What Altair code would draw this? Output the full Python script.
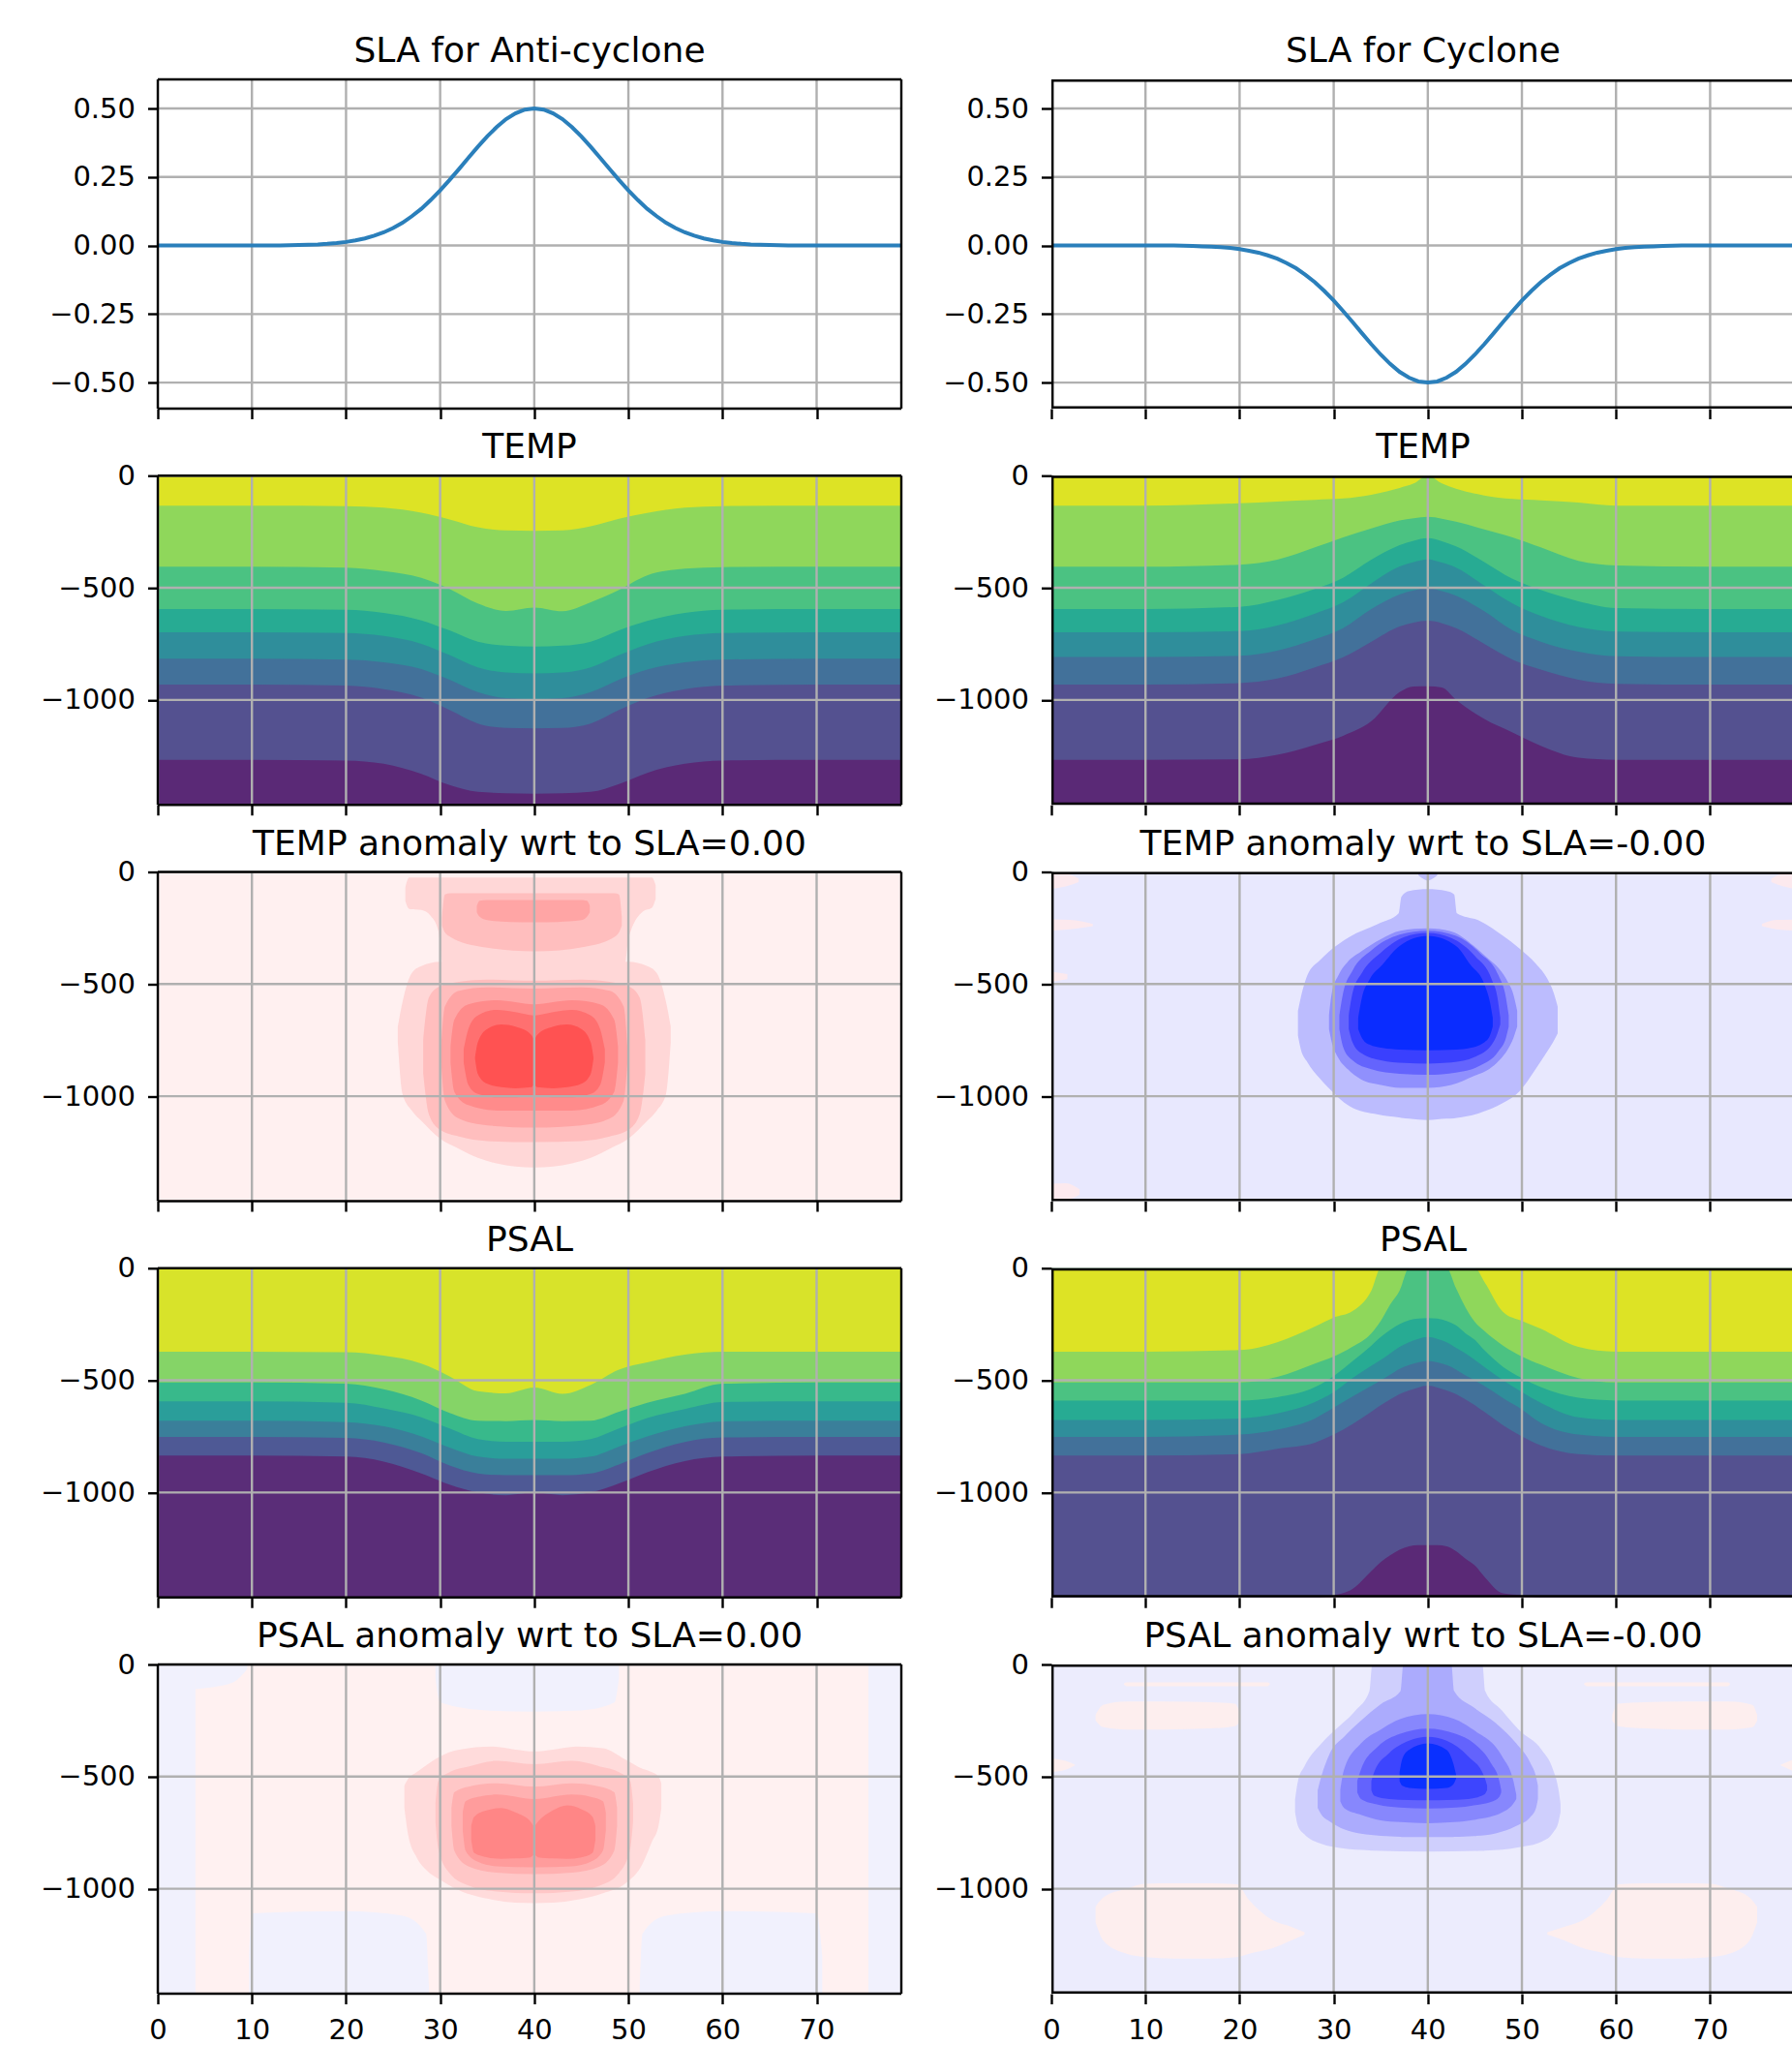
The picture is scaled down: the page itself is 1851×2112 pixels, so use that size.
import altair as alt
import pandas as pd

FONT = "DejaVu Sans"
TICK_SIZE = 29
TITLE_SIZE = 36

# ---------------- axes ----------------
X_TICKS = [0, 10, 20, 30, 40, 50, 60, 70]
X_MAX_LEFT = 79
X_MAX_RIGHT = 78.7          # right column is cut by the page edge
SLA_TICKS = [-0.5, -0.25, 0.0, 0.25, 0.5]
SLA_DOMAIN = [-0.595, 0.606]
DEPTH_TICKS = [0, -500, -1000]
DEPTH_DOMAIN = [-1468, 0]

TITLES = [
    "SLA for Anti-cyclone", "SLA for Cyclone",
    "TEMP", "TEMP",
    "TEMP anomaly wrt to SLA=0.00", "TEMP anomaly wrt to SLA=-0.00",
    "PSAL", "PSAL",
    "PSAL anomaly wrt to SLA=0.00", "PSAL anomaly wrt to SLA=-0.00",
]

# ---------------- SLA profiles ----------------
SLA_X = list(range(80))
SLA_ANTI = [0, 0, 0, 0, 0, 0, 0, 0, 0, 0, 0, 0, 0, 0,
            0.001, 0.002, 0.003, 0.004, 0.006, 0.009, 0.013, 0.019, 0.026, 0.036,
            0.048, 0.064, 0.083, 0.107, 0.134, 0.166, 0.201, 0.239, 0.279, 0.320,
            0.360, 0.398, 0.432, 0.461, 0.482, 0.496, 0.500, 0.496, 0.482, 0.461,
            0.432, 0.398, 0.360, 0.320, 0.279, 0.239, 0.201, 0.166, 0.134, 0.107,
            0.083, 0.064, 0.048, 0.036, 0.026, 0.019, 0.013, 0.009, 0.006, 0.004,
            0.003, 0.002, 0.001,
            0, 0, 0, 0, 0, 0, 0, 0, 0, 0, 0, 0, 0]
SLA_CYC = [0, 0, 0, 0, 0, 0, 0, 0, 0, 0, 0, 0, 0, 0,
           -0.001, -0.002, -0.003, -0.004, -0.006, -0.009, -0.013, -0.019, -0.026, -0.036,
           -0.048, -0.064, -0.083, -0.107, -0.134, -0.166, -0.201, -0.239, -0.279, -0.320,
           -0.360, -0.398, -0.432, -0.461, -0.482, -0.496, -0.500, -0.496, -0.482, -0.461,
           -0.432, -0.398, -0.360, -0.320, -0.279, -0.239, -0.201, -0.166, -0.134, -0.107,
           -0.083, -0.064, -0.048, -0.036, -0.026, -0.019, -0.013, -0.009, -0.006, -0.004,
           -0.003, -0.002, -0.001,
           0, 0, 0, 0, 0, 0, 0, 0, 0, 0, 0, 0, 0]

# ---------------- layered (viridis) fields: band lower boundaries, top -> bottom ----------------
VIRIDIS8 = ["#dde325", "#8fd75b", "#4bc282", "#27ab93", "#2f8e9b", "#42719a", "#545190", "#5a2976"]
VIRIDIS7 = ["#d8e32a", "#85d467", "#38b98b", "#2a9e9a", "#3a7f9a", "#4e5995", "#5a2d78"]

TEMP_AC_X = [0, 10, 20, 24, 28, 31, 34, 37, 40, 43, 46, 49, 52, 56, 60, 70, 79]
TEMP_AC_BOUNDS = [
    [-134, -134, -136, -143, -165, -195, -230, -244, -246, -244, -226, -192, -166, -143, -136, -134, -134],
    [-406, -406, -410, -425, -455, -505, -570, -603, -588, -605, -565, -510, -445, -415, -408, -406, -406],
    [-595, -595, -598, -612, -645, -690, -740, -758, -762, -758, -740, -690, -648, -612, -598, -595, -595],
    [-698, -698, -702, -715, -750, -800, -855, -878, -882, -878, -855, -800, -752, -715, -702, -698, -698],
    [-816, -816, -820, -832, -862, -910, -965, -992, -997, -992, -965, -910, -865, -832, -820, -816, -816],
    [-932, -932, -936, -952, -990, -1045, -1105, -1125, -1127, -1125, -1105, -1045, -992, -952, -936, -932, -932],
    [-1267, -1267, -1270, -1285, -1330, -1380, -1410, -1416, -1418, -1416, -1410, -1375, -1325, -1285, -1270, -1267, -1267],
]

TEMP_CY_X = [0, 10, 20, 24, 28, 31, 34, 37, 38.5, 40, 41.5, 43, 46, 49, 52, 56, 60, 70, 79]
TEMP_CY_BOUNDS = [
    [-134, -134, -123, -115, -108, -102, -85, -55, -35, 0, -35, -58, -88, -104, -110, -120, -134, -134, -134],
    [-406, -406, -397, -375, -320, -275, -235, -200, -190, -184, -192, -205, -240, -275, -320, -380, -400, -406, -406],
    [-595, -595, -585, -555, -505, -455, -375, -310, -290, -279, -292, -315, -385, -460, -510, -560, -590, -595, -595],
    [-698, -698, -693, -668, -615, -565, -480, -405, -385, -373, -388, -410, -490, -570, -625, -675, -695, -698, -698],
    [-809, -809, -803, -780, -730, -680, -595, -530, -512, -501, -515, -535, -605, -690, -740, -785, -805, -809, -809],
    [-932, -932, -925, -905, -855, -810, -740, -672, -655, -647, -658, -680, -750, -820, -865, -910, -928, -932, -932],
    [-1267, -1267, -1265, -1245, -1200, -1160, -1095, -965, -940, -939, -945, -1000, -1085, -1145, -1205, -1258, -1267, -1267, -1267],
]

PSAL_AC_X = [0, 10, 20, 24, 28, 31, 34, 37, 40, 43, 46, 49, 52, 56, 60, 70, 79]
PSAL_AC_BOUNDS = [
    [-372, -372, -375, -390, -425, -482, -548, -558, -532, -560, -520, -452, -420, -385, -372, -372, -372],
    [-510, -510, -515, -540, -590, -645, -680, -682, -677, -682, -680, -640, -600, -560, -515, -510, -510],
    [-594, -594, -600, -625, -665, -715, -762, -774, -774, -774, -762, -715, -668, -628, -597, -594, -594],
    [-680, -680, -686, -705, -750, -800, -840, -850, -850, -850, -840, -795, -750, -705, -683, -680, -680],
    [-752, -752, -757, -777, -825, -880, -915, -923, -923, -923, -915, -875, -825, -775, -755, -752, -752],
    [-836, -836, -840, -862, -915, -965, -1000, -1012, -1000, -1012, -1000, -960, -910, -860, -840, -836, -836],
]

PSAL_CY_X = [0, 10, 20, 24, 28, 30, 32, 34, 35, 36, 37, 38, 39, 40, 41, 42, 43, 44, 45, 46, 48, 50, 52, 56, 60, 70, 79]
PSAL_CY_BOUNDS = [
    [-372, -372, -365, -330, -260, -220, -191, -100, 0, 0, 0, 0, 0, 0, 0, 0, 0, 0, 0, -60, -195, -235, -270, -351, -372, -372, -372],
    [-510, -510, -510, -485, -425, -394, -350, -290, -235, -162, -100, 0, 0, 0, 0, 0, -90, -175, -240, -280, -345, -394, -430, -490, -510, -510, -510],
    [-590, -590, -590, -575, -530, -481, -415, -345, -307, -275, -249, -232, -225, -222, -225, -235, -255, -290, -320, -365, -440, -490, -530, -578, -590, -590, -590],
    [-677, -677, -670, -648, -597, -553, -490, -435, -409, -380, -351, -330, -315, -307, -315, -330, -355, -380, -409, -440, -500, -553, -600, -665, -677, -677, -677],
    [-752, -752, -742, -720, -670, -622, -572, -525, -500, -475, -449, -432, -420, -413, -420, -432, -452, -478, -500, -525, -580, -630, -690, -742, -752, -752, -752],
    [-836, -836, -829, -805, -778, -742, -695, -640, -611, -585, -561, -545, -532, -524, -532, -545, -561, -585, -611, -640, -700, -750, -790, -829, -836, -836, -836],
    [-1468, -1468, -1468, -1468, -1468, -1458, -1430, -1350, -1310, -1280, -1255, -1240, -1235, -1235, -1235, -1240, -1262, -1295, -1325, -1375, -1450, -1458, -1468, -1468, -1468, -1468, -1468],
]

# ---------------- anomaly fields: nested contour regions (x, top depth, bottom depth) ----------------
TEMP_ANOM_AC_BG = "#fff0f0"
TEMP_ANOM_AC_LEVELS = [
    ([26.3, 26.7, 28, 29, 29.8, 30.3, 49.6, 50.0, 51.6, 52.5, 52.9],
     [-70, -25, -25, -25, -25, -25, -25, -25, -25, -25, -60],
     [-130, -165, -170, -196, -261, -420, -420, -300, -175, -160, -120]),
    ([25.5, 26, 27, 28, 30, 32, 34, 36, 38, 40, 42, 44, 46, 48, 50, 52, 53, 54, 54.5],
     [-690, -580, -450, -420, -400, -400, -400, -400, -400, -400, -400, -400, -400, -400, -400, -420, -450, -580, -690],
     [-760, -990, -1065, -1110, -1190, -1235, -1275, -1300, -1314, -1318, -1314, -1300, -1275, -1235, -1190, -1110, -1065, -990, -760]),
    ([30.2, 30.5, 31.1, 34.3, 40, 45.4, 48.5, 49, 49.3],
     [-200, -100, -95, -95, -95, -95, -95, -100, -200],
     [-240, -270, -290, -333, -354, -333, -290, -270, -240]),
    ([33.9, 34.2, 35, 37.5, 40, 42.5, 45, 45.6, 45.9],
     [-150, -128, -125, -125, -125, -125, -125, -128, -150],
     [-180, -200, -215, -223, -225, -223, -215, -200, -180]),
    ([28.2, 28.8, 30, 32, 35, 40, 45, 48, 50, 51.2, 51.8],
     [-750, -560, -510, -490, -480, -485, -480, -490, -510, -560, -750],
     [-900, -1080, -1150, -1180, -1200, -1205, -1200, -1180, -1150, -1080, -900]),
    ([30.1, 30.5, 32, 35, 40, 45, 48, 49.5, 49.9],
     [-780, -600, -530, -515, -520, -515, -530, -600, -780],
     [-850, -1020, -1100, -1130, -1140, -1130, -1100, -1020, -850]),
    ([31.1, 31.5, 33, 36, 40, 44, 47, 48.5, 48.9],
     [-780, -660, -590, -572, -590, -572, -590, -660, -780],
     [-850, -980, -1040, -1064, -1064, -1064, -1040, -980, -850]),
    ([32.5, 33, 34, 36, 38, 40, 42, 44, 46, 47, 47.5],
     [-790, -700, -640, -615, -625, -640, -625, -615, -640, -700, -790],
     [-850, -950, -990, -1005, -1005, -1000, -1005, -1005, -990, -950, -850]),
    ([33.7, 34, 35, 36.5, 38, 39.7, 40, 40.3, 42, 43.5, 45, 46, 46.3],
     [-830, -760, -700, -680, -690, -727, -745, -727, -690, -680, -700, -760, -830],
     [-830, -900, -945, -960, -965, -960, -950, -960, -965, -960, -945, -900, -830]),
]
TEMP_ANOM_AC_COLORS = ["#ffd7d7", "#ffd7d7", "#ffbebe", "#ffa5a5", "#ffbebe", "#ffa5a5", "#ff8b8b", "#ff7070", "#ff5252"]

TEMP_ANOM_CY_BG = "#e8e8fe"
TEMP_ANOM_CY_LEVELS = [
    ([0, 1.5, 2.9], [-5, -8, -30], [-75, -65, -45]),
    ([0, 2, 4.4], [-212, -214, -232], [-262, -256, -242]),
    ([0, 1.7], [-445, -455], [-490, -478]),
    ([0, 1.5, 3.0], [-1390, -1388, -1415], [-1462, -1462, -1440]),
    ([76.5, 77.8, 79], [-30, -8, -5], [-45, -65, -75]),
    ([75.5, 77, 79], [-232, -214, -212], [-242, -256, -262]),
    ([39, 39.5, 40, 40.5, 41], [-3, 0, 0, 0, -3], [-15, -30, -38, -30, -15]),
    ([26.2, 26.5, 27.2, 28.5, 29.5, 31.7, 34.7, 36.9, 37.2, 38, 40, 42, 42.8, 43.1, 45.5, 48, 49.7, 51.5, 52.7, 53.3, 53.8],
     [-620, -560, -461, -395, -355, -289, -232, -185, -110, -85, -77, -85, -100, -185, -218, -285, -340, -410, -476, -530, -600],
     [-730, -790, -848, -920, -965, -1045, -1082, -1095, -1097, -1100, -1106, -1100, -1099, -1097, -1075, -1030, -980, -877, -800, -760, -720]),
    ([29.5, 29.8, 30.5, 31.5, 32.9, 35, 37.1, 40, 42.5, 44.9, 46.5, 47.6, 48.5, 49.1, 49.5],
     [-640, -540, -461, -400, -355, -300, -262, -252, -265, -330, -390, -433, -490, -547, -620],
     [-700, -760, -830, -880, -925, -950, -963, -963, -950, -910, -880, -840, -791, -740, -690]),
    ([30.6, 31, 32, 34, 37, 40, 43, 45.5, 47.5, 48.3, 48.6],
     [-640, -540, -440, -350, -280, -262, -285, -360, -460, -560, -640],
     [-700, -780, -840, -880, -900, -905, -895, -865, -800, -740, -690]),
    ([31.6, 32, 33, 35, 37.5, 40, 42.5, 45, 46.8, 47.4, 47.7],
     [-640, -540, -450, -360, -290, -272, -295, -375, -480, -560, -650],
     [-700, -760, -810, -840, -852, -855, -850, -825, -770, -720, -680]),
    ([32.6, 33, 33.8, 35.2, 37, 40, 43, 44.5, 46, 46.6, 46.9],
     [-650, -560, -480, -412, -330, -285, -330, -412, -500, -580, -650],
     [-700, -740, -770, -785, -792, -795, -792, -785, -760, -730, -690]),
]
TEMP_ANOM_CY_COLORS = ["#fce9ee", "#fce9ee", "#fce9ee", "#fce9ee", "#fce9ee", "#fce9ee",
                       "#bcbcfe", "#bcbcfe", "#9090fd", "#6464fd", "#3a40fe", "#0a2cff"]

PSAL_ANOM_AC_BG = "#fff1f1"
PSAL_ANOM_AC_LEVELS = [
    ([0, 4], [0, 0], [-1468, -1468]),
    ([4, 6, 8, 9.5], [0, 0, 0, 0], [-110, -100, -80, -20]),
    ([75.5, 79], [0, 0], [-1468, -1468]),
    ([29.5, 30, 35, 40, 45, 48.5, 49], [0, 0, 0, 0, 0, 0, 0], [-60, -170, -205, -210, -205, -170, -60]),
    ([9.7, 10, 20, 26, 28.5, 28.8], [-1300, -1110, -1100, -1120, -1200, -1440], [-1468, -1468, -1468, -1468, -1468, -1468]),
    ([51.2, 51.5, 54, 60, 70, 70.6], [-1440, -1200, -1120, -1100, -1110, -1300], [-1468, -1468, -1468, -1468, -1468, -1468]),
    ([26.2, 26.6, 27.5, 28.5, 30, 31.9, 35.6, 38, 40, 42, 44.5, 47.3, 49.7, 51.5, 52.5, 53.2, 53.5],
     [-540, -510, -480, -450, -410, -381, -366, -380, -388, -380, -366, -373, -424, -465, -480, -500, -530],
     [-640, -760, -860, -915, -960, -1005, -1049, -1062, -1064, -1062, -1049, -1020, -976, -889, -790, -720, -640]),
    ([29.5, 29.8, 31, 33, 36, 40, 44, 47, 49, 50.2, 50.5],
     [-620, -520, -480, -455, -430, -445, -430, -455, -480, -520, -620],
     [-700, -820, -930, -985, -1012, -1020, -1012, -985, -930, -820, -700]),
    ([31.2, 31.5, 33, 36, 40, 44, 47, 48.5, 48.8],
     [-640, -570, -545, -530, -545, -530, -545, -570, -640],
     [-720, -830, -900, -928, -935, -928, -900, -830, -720]),
    ([32.4, 32.7, 34, 36, 40, 44, 46, 47.3, 47.6],
     [-660, -610, -590, -580, -600, -580, -590, -610, -660],
     [-740, -830, -880, -900, -905, -900, -880, -830, -740]),
    ([33.3, 33.6, 35, 36.5, 38, 39.6, 40, 40.4, 42, 43.5, 45, 46.2, 46.5],
     [-720, -680, -650, -640, -660, -700, -720, -700, -650, -628, -645, -680, -720],
     [-780, -840, -860, -867, -865, -860, -850, -860, -865, -867, -860, -840, -780]),
]
PSAL_ANOM_AC_COLORS = ["#f1f1fd", "#f1f1fd", "#f1f1fd", "#f1f1fd", "#f1f1fd", "#f1f1fd",
                       "#ffdbdb", "#ffc7c7", "#ffb1b1", "#ff9c9c", "#ff8686"]

PSAL_ANOM_CY_BG = "#ececfd"
PSAL_ANOM_CY_LEVELS = [
    ([7.7, 8, 23, 23.2], [-85, -80, -80, -85], [-90, -97, -97, -90]),
    ([4.7, 5.5, 8, 12, 17, 19.5, 20.1], [-225, -180, -165, -165, -168, -175, -225], [-250, -280, -290, -290, -285, -275, -250]),
    ([56.6, 56.9, 71.9, 72.1], [-85, -80, -80, -85], [-90, -97, -97, -90]),
    ([59.6, 60.2, 63, 67, 72, 74.5, 75], [-225, -175, -168, -165, -165, -180, -225], [-250, -275, -285, -290, -290, -280, -250]),
    ([4.7, 5.5, 8, 10, 13, 17, 19.7, 21, 23.5, 25.5, 26.9],
     [-1080, -1040, -1000, -978, -976, -976, -980, -1050, -1140, -1170, -1194],
     [-1150, -1230, -1290, -1305, -1311, -1311, -1305, -1290, -1265, -1230, -1205]),
    ([52.7, 54.5, 56.5, 59, 60.3, 63, 67, 70, 72, 74.2, 75],
     [-1194, -1170, -1140, -1050, -980, -976, -976, -978, -1000, -1040, -1080],
     [-1205, -1230, -1265, -1290, -1305, -1311, -1311, -1305, -1290, -1230, -1150]),
    ([0, 1.5, 2.5], [-420, -430, -447], [-480, -470, -450]),
    ([77.5, 78.5, 79], [-447, -430, -420], [-450, -470, -480]),
    ([25.9, 26.2, 26.9, 28.7, 30.5, 32.3, 33.8, 34.1, 40, 45.8, 46.1, 47.9, 49.7, 52.1, 53.3, 53.9, 54.1],
     [-600, -520, -453, -352, -279, -206, -119, 0, 0, 0, -119, -206, -293, -381, -468, -560, -620],
     [-660, -720, -758, -800, -817, -826, -829, -830, -834, -831, -830, -826, -815, -790, -750, -700, -660]),
    ([28.3, 28.7, 29.6, 31.1, 32.9, 35, 37.1, 37.4, 40, 42.5, 42.8, 44.9, 47.3, 49.4, 50.9, 51.5, 51.7],
     [-560, -497, -395, -323, -250, -177, -119, 0, 0, 0, -119, -192, -264, -352, -439, -500, -540],
     [-640, -670, -700, -735, -755, -764, -769, -770, -770, -770, -769, -765, -752, -720, -680, -640, -600]),
    ([30.7, 31.1, 32.9, 35, 37.1, 40, 42.8, 44.9, 47.9, 49.1, 49.4],
     [-560, -468, -352, -290, -243, -221, -243, -293, -410, -520, -580],
     [-610, -640, -670, -695, -703, -708, -703, -693, -660, -620, -600]),
    ([32.5, 32.9, 34.7, 37, 40, 43, 44.9, 46.7, 47.6, 47.8],
     [-520, -468, -366, -310, -286, -310, -352, -439, -520, -560],
     [-570, -600, -625, -638, -642, -638, -628, -613, -590, -570]),
    ([34, 34.3, 35.9, 38, 40, 42, 44.3, 46, 46.3],
     [-520, -480, -395, -340, -323, -340, -410, -500, -540],
     [-560, -585, -600, -605, -606, -605, -600, -580, -560]),
    ([37, 37.3, 38, 40, 42, 42.7, 43],
     [-480, -420, -381, -352, -381, -440, -490],
     [-520, -541, -550, -555, -550, -535, -510]),
]
PSAL_ANOM_CY_COLORS = ["#fdeeee"] * 8 + ["#cfcffd", "#ababfd", "#8787fd", "#6363fd", "#3d45fe", "#0a30ff"]


# ---------------- helpers ----------------
def x_enc(field, P):
    return alt.X(field, type="quantitative",
                 scale=alt.Scale(domain=[0, P["xmax"]], nice=False, zero=False),
                 axis=alt.Axis(values=X_TICKS, labels=P["xl"], format="d", grid=False, domain=False,
                               ticks=True, tickSize=10.5, tickWidth=2.4, tickColor="black",
                               labelFont=FONT, labelFontSize=TICK_SIZE, labelColor="black",
                               labelPadding=13, labelFlush=False, labelOverlap=False, title=None))


def y_enc(field, P):
    return alt.Y(field, type="quantitative",
                 scale=alt.Scale(domain=P["yd"], nice=False, zero=False),
                 axis=alt.Axis(values=P["yt"], format=P["fmt"], grid=False, domain=False,
                               ticks=True, tickSize=10.5, tickWidth=2.4, tickColor="black",
                               labelFont=FONT, labelFontSize=TICK_SIZE, labelColor="black",
                               labelPadding=13, labelFlush=False, labelOverlap=False, title=None))


def enc(P, xf, yf, x2=None, y2=None):
    d = dict(x=x_enc(xf, P), y=y_enc(yf, P))
    if x2:
        d["x2"] = alt.X2(x2)
    if y2:
        d["y2"] = alt.Y2(y2)
    return d


def rect_layer(P, color):
    df = pd.DataFrame({"x": [0], "x2": [P["xmax"]], "y": [P["yd"][0]], "y2": [P["yd"][1]]})
    return alt.Chart(df).mark_rect(color=color, strokeWidth=0, clip=True).encode(**enc(P, "x", "y", "x2", "y2"))


def area_layer(P, xs, top, bot, color):
    df = pd.DataFrame({"x": xs, "top": top, "bot": bot})
    return alt.Chart(df).mark_area(color=color, opacity=1, interpolate="monotone", clip=True).encode(
        **enc(P, "x", "top", y2="bot"))


def grid_layer(P):
    rows = [{"x": t, "x2": t, "y": P["yd"][0], "y2": P["yd"][1]} for t in X_TICKS]
    rows += [{"x": 0, "x2": P["xmax"], "y": t, "y2": t} for t in P["yt"]]
    return alt.Chart(pd.DataFrame(rows)).mark_rule(color="#b0b0b0", strokeWidth=2.4, clip=True).encode(
        **enc(P, "x", "y", "x2", "y2"))


def frame_layer(P):
    x0, x1 = 0, P["xmax"]
    y0, y1 = P["yd"]
    rows = [{"x": x0, "x2": x1, "y": y1, "y2": y1},
            {"x": x0, "x2": x1, "y": y0, "y2": y0},
            {"x": x0, "x2": x0, "y": y0, "y2": y1}]
    if not P["right"]:
        rows.append({"x": x1, "x2": x1, "y": y0, "y2": y1})
        mark = alt.Chart(pd.DataFrame(rows)).mark_rule(color="black", strokeWidth=2.4)
    else:
        mark = alt.Chart(pd.DataFrame(rows)).mark_rule(color="black", strokeWidth=4.8, clip=True)
    return mark.encode(**enc(P, "x", "y", "x2", "y2"))


def title_layer(title):
    df = pd.DataFrame({"t": [title]})
    return alt.Chart(df).mark_text(font=FONT, fontSize=TITLE_SIZE, color="black", align="center",
                                   baseline="alphabetic").encode(
        text="t:N", x=alt.value(384), y=alt.value(-18))


def finish(P, layers, title):
    layers = layers + [grid_layer(P), frame_layer(P), title_layer(title)]
    return alt.layer(*layers).properties(width=P["w"], height=340)


def make_P(right, kind, xl=False):
    return {
        "xmax": X_MAX_RIGHT if right else X_MAX_LEFT,
        "w": 765 if right else 768,
        "right": right,
        "xl": xl,
        "yd": SLA_DOMAIN if kind == "sla" else DEPTH_DOMAIN,
        "yt": SLA_TICKS if kind == "sla" else DEPTH_TICKS,
        "fmt": ".2f" if kind == "sla" else "d",
    }


def sla_panel(right, values, title):
    P = make_P(right, "sla")
    df = pd.DataFrame({"x": SLA_X, "y": values})
    line = alt.Chart(df).mark_line(color="#2a7fbb", strokeWidth=4, clip=True).encode(**enc(P, "x", "y"))
    return alt.layer(grid_layer(P), line, frame_layer(P), title_layer(title)).properties(
        width=P["w"], height=340)


def band_panel(right, xs, bounds, colors, title, xl=False):
    P = make_P(right, "depth", xl)
    layers = [rect_layer(P, colors[-1])]
    for k in range(len(bounds) - 1, -1, -1):
        layers.append(area_layer(P, xs, [0] * len(xs), bounds[k], colors[k]))
    return finish(P, layers, title)


def anomaly_panel(right, bg, levels, colors, title, xl=False):
    P = make_P(right, "depth", xl)
    layers = [rect_layer(P, bg)]
    for (xs, top, bot), c in zip(levels, colors):
        layers.append(area_layer(P, xs, top, bot, c))
    return finish(P, layers, title)


panels = [
    sla_panel(False, SLA_ANTI, TITLES[0]),
    sla_panel(True, SLA_CYC, TITLES[1]),
    band_panel(False, TEMP_AC_X, TEMP_AC_BOUNDS, VIRIDIS8, TITLES[2]),
    band_panel(True, TEMP_CY_X, TEMP_CY_BOUNDS, VIRIDIS8, TITLES[3]),
    anomaly_panel(False, TEMP_ANOM_AC_BG, TEMP_ANOM_AC_LEVELS, TEMP_ANOM_AC_COLORS, TITLES[4]),
    anomaly_panel(True, TEMP_ANOM_CY_BG, TEMP_ANOM_CY_LEVELS, TEMP_ANOM_CY_COLORS, TITLES[5]),
    band_panel(False, PSAL_AC_X, PSAL_AC_BOUNDS, VIRIDIS7, TITLES[6]),
    band_panel(True, PSAL_CY_X, PSAL_CY_BOUNDS, VIRIDIS8, TITLES[7]),
    anomaly_panel(False, PSAL_ANOM_AC_BG, PSAL_ANOM_AC_LEVELS, PSAL_ANOM_AC_COLORS, TITLES[8], xl=True),
    anomaly_panel(True, PSAL_ANOM_CY_BG, PSAL_ANOM_CY_LEVELS, PSAL_ANOM_CY_COLORS, TITLES[9], xl=True),
]

chart = alt.concat(*panels, columns=2, spacing={"row": 69.25, "column": 155}, bounds="flush").properties(
    padding={"left": 41, "top": 35, "right": 0, "bottom": 0},
    background="white",
).configure_view(stroke=None)

chart.save("out.html", embed_options={"renderer": "svg", "actions": False})
